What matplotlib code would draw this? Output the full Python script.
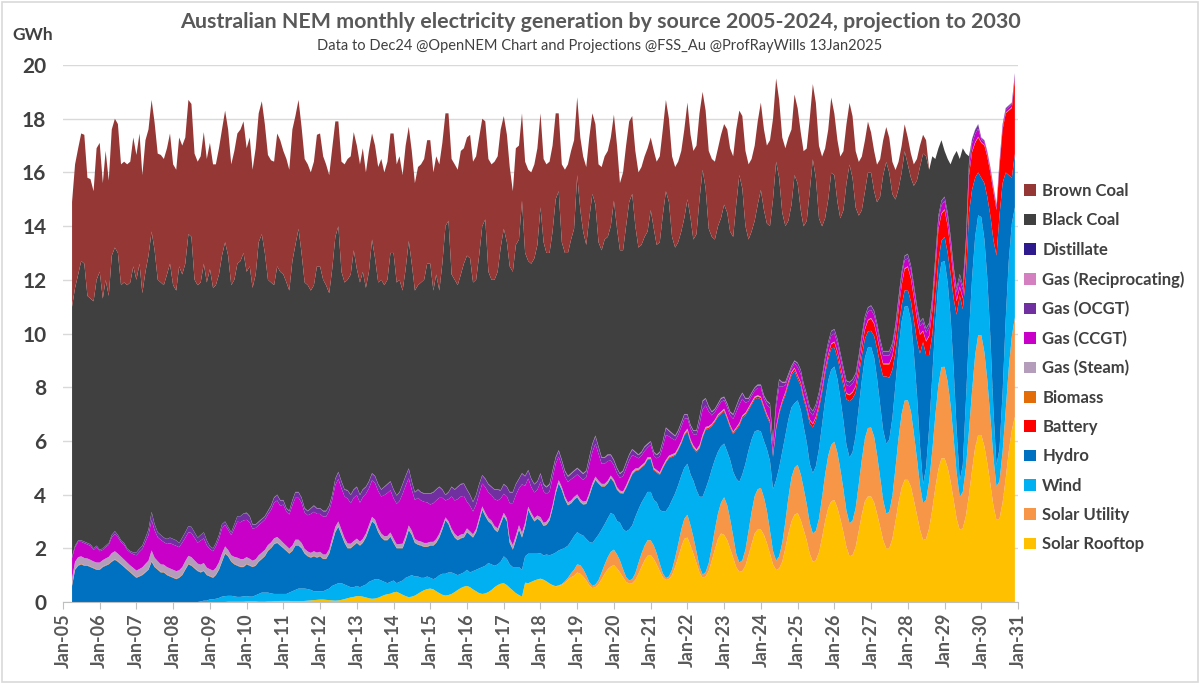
import matplotlib
matplotlib.use("Agg")
import matplotlib.pyplot as plt
import matplotlib.dates as mdates
from matplotlib.patches import Patch, Rectangle
import pandas as pd

plt.rcParams['font.family'] = ['Lato', 'DejaVu Sans']

# monthly values, Apr 2005 .. Dec 2030 (first row = Apr-Dec 2005)
rooftop = [
    0.00, 0.00, 0.00, 0.00, 0.00, 0.00, 0.00, 0.00, 0.00,
    0.00, 0.00, 0.00, 0.00, 0.00, 0.00, 0.00, 0.00, 0.00, 0.00, 0.00, 0.00,
    0.00, 0.00, 0.00, 0.00, 0.00, 0.00, 0.00, 0.00, 0.00, 0.00, 0.00, 0.00,
    0.00, 0.00, 0.00, 0.00, 0.00, 0.00, 0.00, 0.00, 0.00, 0.00, 0.00, 0.00,
    0.00, 0.00, 0.00, 0.00, 0.00, 0.00, 0.01, 0.01, 0.01, 0.01, 0.01, 0.01,
    0.02, 0.02, 0.02, 0.02, 0.01, 0.01, 0.01, 0.02, 0.02, 0.03, 0.03, 0.04,
    0.04, 0.04, 0.04, 0.03, 0.03, 0.03, 0.03, 0.04, 0.05, 0.06, 0.07, 0.08,
    0.09, 0.09, 0.08, 0.07, 0.06, 0.05, 0.06, 0.08, 0.11, 0.14, 0.17, 0.19,
    0.22, 0.22, 0.20, 0.17, 0.14, 0.12, 0.13, 0.16, 0.21, 0.26, 0.29, 0.31,
    0.36, 0.38, 0.33, 0.27, 0.22, 0.18, 0.20, 0.24, 0.31, 0.38, 0.44, 0.48,
    0.50, 0.47, 0.40, 0.33, 0.27, 0.24, 0.26, 0.30, 0.37, 0.45, 0.52, 0.57,
    0.60, 0.55, 0.47, 0.40, 0.33, 0.30, 0.32, 0.37, 0.45, 0.55, 0.63, 0.68,
    0.70, 0.63, 0.53, 0.43, 0.33, 0.26, 0.20, 0.72, 0.70, 0.75, 0.80, 0.84,
    0.86, 0.82, 0.76, 0.68, 0.62, 0.58, 0.60, 0.64, 0.72, 0.82, 0.92, 0.98,
    1.10, 1.05, 0.95, 0.80, 0.62, 0.52, 0.55, 0.66, 0.85, 1.05, 1.22, 1.32,
    1.38, 1.25, 1.10, 0.92, 0.75, 0.68, 0.70, 0.82, 1.05, 1.30, 1.55, 1.72,
    1.75, 1.60, 1.40, 1.15, 0.92, 0.82, 0.85, 1.00, 1.30, 1.65, 2.05, 2.35,
    2.40, 2.10, 1.80, 1.45, 1.10, 0.90, 0.95, 1.15, 1.55, 1.95, 2.35, 2.55,
    2.50, 2.30, 2.00, 1.65, 1.30, 1.12, 1.15, 1.35, 1.75, 2.15, 2.55, 2.70,
    2.70, 2.50, 2.20, 1.80, 1.40, 1.19, 1.25, 1.50, 2.00, 2.55, 3.00, 3.25,
    3.31, 3.05, 2.70, 2.30, 1.80, 1.50, 1.55, 1.85, 2.40, 3.00, 3.50, 3.75,
    3.80, 3.50, 3.10, 2.60, 2.05, 1.70, 1.75, 2.05, 2.65, 3.25, 3.75, 3.93,
    3.93, 3.70, 3.30, 2.80, 2.30, 2.00, 2.00, 2.35, 3.00, 3.70, 4.25, 4.55,
    4.55, 4.30, 3.80, 3.25, 2.70, 2.31, 2.35, 2.75, 3.45, 4.25, 4.95, 5.35,
    5.35, 5.00, 4.50, 3.80, 3.10, 2.68, 2.75, 3.20, 4.00, 4.90, 5.75, 6.22,
    6.22, 5.80, 5.20, 4.40, 3.60, 3.05, 3.10, 3.70, 4.60, 5.60, 6.40, 6.90,
]

utility = [
    0.00, 0.00, 0.00, 0.00, 0.00, 0.00, 0.00, 0.00, 0.00,
    0.00, 0.00, 0.00, 0.00, 0.00, 0.00, 0.00, 0.00, 0.00, 0.00, 0.00, 0.00,
    0.00, 0.00, 0.00, 0.00, 0.00, 0.00, 0.00, 0.00, 0.00, 0.00, 0.00, 0.00,
    0.00, 0.00, 0.00, 0.00, 0.00, 0.00, 0.00, 0.00, 0.00, 0.00, 0.00, 0.00,
    0.00, 0.00, 0.00, 0.00, 0.00, 0.00, 0.00, 0.00, 0.00, 0.00, 0.00, 0.00,
    0.00, 0.00, 0.00, 0.00, 0.00, 0.00, 0.00, 0.00, 0.00, 0.00, 0.00, 0.00,
    0.00, 0.00, 0.00, 0.00, 0.00, 0.00, 0.00, 0.00, 0.00, 0.00, 0.00, 0.00,
    0.00, 0.00, 0.00, 0.00, 0.00, 0.00, 0.00, 0.00, 0.00, 0.00, 0.00, 0.00,
    0.00, 0.00, 0.00, 0.00, 0.00, 0.00, 0.00, 0.00, 0.00, 0.00, 0.00, 0.00,
    0.00, 0.00, 0.00, 0.00, 0.00, 0.00, 0.00, 0.00, 0.00, 0.00, 0.00, 0.00,
    0.00, 0.00, 0.00, 0.00, 0.00, 0.00, 0.00, 0.00, 0.00, 0.00, 0.00, 0.00,
    0.00, 0.00, 0.00, 0.00, 0.00, 0.00, 0.00, 0.00, 0.00, 0.00, 0.00, 0.00,
    0.00, 0.00, 0.00, 0.00, 0.00, 0.00, 0.00, 0.00, 0.00, 0.00, 0.00, 0.00,
    0.01, 0.01, 0.01, 0.01, 0.01, 0.01, 0.02, 0.03, 0.05, 0.08, 0.15, 0.22,
    0.30, 0.32, 0.28, 0.20, 0.12, 0.08, 0.10, 0.15, 0.25, 0.35, 0.45, 0.55,
    0.57, 0.52, 0.45, 0.30, 0.18, 0.12, 0.15, 0.25, 0.40, 0.50, 0.55, 0.58,
    0.55, 0.50, 0.42, 0.28, 0.15, 0.07, 0.10, 0.20, 0.35, 0.50, 0.65, 0.75,
    0.85, 0.75, 0.62, 0.42, 0.22, 0.12, 0.16, 0.30, 0.50, 0.75, 0.95, 1.15,
    1.40, 1.30, 1.10, 0.80, 0.50, 0.35, 0.40, 0.60, 0.90, 1.20, 1.40, 1.50,
    1.55, 1.40, 1.20, 0.85, 0.50, 0.35, 0.45, 0.70, 1.00, 1.35, 1.65, 1.75,
    1.80, 1.70, 1.55, 1.35, 1.15, 1.05, 1.10, 1.25, 1.50, 1.75, 1.95, 2.10,
    2.17, 2.05, 1.85, 1.60, 1.35, 1.23, 1.28, 1.45, 1.75, 2.05, 2.35, 2.55,
    2.57, 2.45, 2.20, 1.85, 1.50, 1.30, 1.35, 1.60, 2.00, 2.40, 2.75, 2.95,
    2.97, 2.80, 2.50, 2.10, 1.65, 1.37, 1.45, 1.75, 2.20, 2.70, 3.15, 3.40,
    3.41, 3.20, 2.85, 2.30, 1.70, 1.24, 1.35, 1.80, 2.40, 2.95, 3.45, 3.72,
    3.72, 3.50, 3.10, 2.50, 1.80, 1.25, 1.40, 1.90, 2.55, 3.10, 3.50, 3.70,
]

wind = [
    0.00, 0.00, 0.00, 0.00, 0.00, 0.00, 0.00, 0.00, 0.00,
    0.00, 0.00, 0.00, 0.00, 0.00, 0.00, 0.00, 0.00, 0.00, 0.00, 0.00, 0.00,
    0.00, 0.00, 0.00, 0.00, 0.00, 0.00, 0.00, 0.00, 0.00, 0.00, 0.00, 0.00,
    0.00, 0.00, 0.00, 0.00, 0.00, 0.00, 0.00, 0.00, 0.00, 0.02, 0.05, 0.05,
    0.10, 0.10, 0.12, 0.15, 0.20, 0.22, 0.22, 0.22, 0.20, 0.18, 0.18, 0.20,
    0.20, 0.18, 0.18, 0.23, 0.29, 0.34, 0.34, 0.33, 0.30, 0.27, 0.27, 0.26,
    0.26, 0.26, 0.31, 0.37, 0.42, 0.47, 0.47, 0.46, 0.43, 0.39, 0.33, 0.32,
    0.31, 0.31, 0.37, 0.43, 0.54, 0.60, 0.64, 0.62, 0.54, 0.46, 0.38, 0.36,
    0.38, 0.33, 0.40, 0.48, 0.61, 0.68, 0.72, 0.69, 0.59, 0.49, 0.41, 0.44,
    0.44, 0.32, 0.42, 0.53, 0.68, 0.77, 0.80, 0.71, 0.64, 0.52, 0.46, 0.47,
    0.40, 0.38, 0.50, 0.67, 0.78, 0.81, 0.84, 0.80, 0.68, 0.55, 0.53, 0.53,
    0.60, 0.55, 0.68, 0.80, 0.92, 1.00, 1.03, 1.08, 0.95, 0.80, 0.77, 0.82,
    1.00, 0.97, 0.87, 0.87, 0.97, 1.04, 1.00, 0.98, 1.10, 1.05, 1.00, 0.96,
    0.95, 0.90, 1.00, 1.05, 1.15, 1.25, 1.30, 1.30, 1.25, 1.20, 1.20, 1.25,
    1.20, 1.15, 1.25, 1.35, 1.50, 1.60, 1.70, 1.70, 1.60, 1.50, 1.45, 1.45,
    1.30, 1.25, 1.40, 1.50, 1.70, 1.90, 2.00, 2.10, 2.00, 1.90, 1.80, 1.80,
    1.80, 1.70, 1.90, 2.00, 2.30, 2.50, 2.60, 2.60, 2.40, 2.20, 2.00, 1.90,
    1.90, 1.90, 2.10, 2.30, 2.60, 2.90, 3.10, 3.10, 2.90, 2.60, 2.30, 2.10,
    2.00, 2.00, 2.20, 2.40, 2.80, 3.00, 3.20, 3.20, 3.00, 2.70, 2.40, 2.20,
    2.10, 2.10, 2.30, 2.60, 2.30, 3.00, 3.30, 3.40, 3.20, 2.90, 2.60, 2.40,
    2.40, 2.40, 2.30, 2.30, 2.20, 2.25, 2.40, 2.60, 2.70, 2.75, 2.80, 2.80,
    2.80, 2.75, 2.65, 2.55, 2.45, 2.45, 2.55, 2.70, 2.85, 2.95, 3.00, 3.00,
    3.00, 2.95, 2.85, 2.70, 2.60, 2.60, 2.70, 2.90, 3.10, 3.30, 3.45, 3.50,
    3.50, 3.40, 3.00, 2.40, 1.50, 0.70, 1.20, 2.00, 2.80, 3.40, 3.80, 3.90,
    3.94, 3.70, 3.30, 2.60, 1.60, 0.60, 1.00, 2.50, 3.60, 4.20, 4.40, 4.46,
    4.40, 4.20, 3.80, 3.00, 1.80, 0.80, 1.20, 2.20, 3.40, 4.00, 4.20, 4.10,
]

hydro = [
    0.60, 1.20, 1.35, 1.40, 1.35, 1.35, 1.30, 1.25, 1.20,
    1.20, 1.30, 1.35, 1.40, 1.50, 1.57, 1.50, 1.40, 1.30, 1.20, 1.10, 1.00,
    0.90, 0.95, 1.00, 1.10, 1.20, 1.50, 1.30, 1.20, 1.10, 1.10, 1.00, 0.95,
    0.90, 0.85, 0.90, 1.00, 1.20, 1.40, 1.35, 1.25, 1.15, 1.08, 1.10, 0.95,
    0.85, 0.80, 0.88, 1.05, 1.30, 1.58, 1.47, 1.27, 1.19, 1.16, 1.11, 1.09,
    1.18, 1.15, 1.10, 1.10, 1.20, 1.25, 1.35, 1.55, 1.68, 1.85, 1.90, 1.80,
    1.70, 1.60, 1.45, 1.50, 1.65, 1.60, 1.50, 1.30, 1.22, 1.20, 1.30, 1.25,
    1.30, 1.20, 1.15, 1.30, 1.60, 1.95, 2.10, 1.80, 1.55, 1.40, 1.45, 1.55,
    1.60, 1.55, 1.60, 1.75, 1.95, 2.20, 2.05, 1.75, 1.60, 1.55, 1.60, 1.68,
    1.40, 1.30, 1.25, 1.20, 1.40, 1.73, 1.50, 1.25, 1.18, 1.20, 1.15, 1.10,
    1.20, 1.25, 1.30, 1.40, 1.65, 2.00, 1.80, 1.50, 1.35, 1.30, 1.32, 1.30,
    1.40, 1.40, 1.25, 1.40, 1.75, 2.13, 1.85, 1.55, 1.50, 1.35, 1.20, 1.40,
    1.50, 1.40, 0.80, 0.65, 1.00, 1.40, 1.20, 1.10, 1.63, 1.40, 1.20, 1.30,
    1.20, 1.10, 1.10, 1.30, 1.70, 2.20, 2.50, 2.20, 1.80, 1.50, 1.40, 1.35,
    1.30, 1.20, 1.15, 1.30, 1.70, 2.10, 2.20, 1.90, 1.60, 1.40, 1.30, 1.30,
    1.20, 1.15, 1.10, 1.30, 1.60, 1.80, 1.90, 1.70, 1.45, 1.30, 1.20, 1.20,
    1.20, 1.10, 1.10, 1.30, 1.60, 1.80, 1.80, 1.60, 1.40, 1.30, 1.20, 1.20,
    1.20, 1.20, 1.20, 1.40, 1.80, 2.20, 2.20, 1.90, 1.60, 1.40, 1.30, 1.20,
    1.20, 1.20, 1.20, 1.40, 1.80, 2.10, 2.10, 1.80, 1.50, 1.30, 1.20, 1.20,
    1.20, 1.20, 1.20, 1.40, 1.20, 1.90, 2.00, 1.80, 1.50, 1.30, 1.20, 1.20,
    0.80, 0.90, 1.00, 1.20, 1.50, 1.70, 1.70, 1.50, 1.20, 1.00, 0.80, 0.80,
    0.70, 0.80, 1.00, 1.30, 1.70, 2.10, 2.00, 1.60, 1.20, 0.90, 0.70, 0.60,
    0.60, 0.80, 1.10, 1.50, 2.00, 2.50, 2.30, 1.80, 1.20, 0.80, 0.60, 0.60,
    0.60, 0.70, 1.20, 2.00, 3.40, 5.30, 4.20, 2.70, 1.50, 0.90, 0.80, 0.80,
    0.90, 1.10, 1.60, 2.60, 4.30, 6.90, 5.80, 4.60, 4.50, 3.30, 2.20, 1.60,
    1.46, 2.10, 3.00, 4.50, 6.30, 7.80, 8.70, 7.80, 5.45, 3.20, 1.70, 2.00,
]

battery = [
    0.00, 0.00, 0.00, 0.00, 0.00, 0.00, 0.00, 0.00, 0.00,
    0.00, 0.00, 0.00, 0.00, 0.00, 0.00, 0.00, 0.00, 0.00, 0.00, 0.00, 0.00,
    0.00, 0.00, 0.00, 0.00, 0.00, 0.00, 0.00, 0.00, 0.00, 0.00, 0.00, 0.00,
    0.00, 0.00, 0.00, 0.00, 0.00, 0.00, 0.00, 0.00, 0.00, 0.00, 0.00, 0.00,
    0.00, 0.00, 0.00, 0.00, 0.00, 0.00, 0.00, 0.00, 0.00, 0.00, 0.00, 0.00,
    0.00, 0.00, 0.00, 0.00, 0.00, 0.00, 0.00, 0.00, 0.00, 0.00, 0.00, 0.00,
    0.00, 0.00, 0.00, 0.00, 0.00, 0.00, 0.00, 0.00, 0.00, 0.00, 0.00, 0.00,
    0.00, 0.00, 0.00, 0.00, 0.00, 0.00, 0.00, 0.00, 0.00, 0.00, 0.00, 0.00,
    0.00, 0.00, 0.00, 0.00, 0.00, 0.00, 0.00, 0.00, 0.00, 0.00, 0.00, 0.00,
    0.00, 0.00, 0.00, 0.00, 0.00, 0.00, 0.00, 0.00, 0.00, 0.00, 0.00, 0.00,
    0.00, 0.00, 0.00, 0.00, 0.00, 0.00, 0.00, 0.00, 0.00, 0.00, 0.00, 0.00,
    0.00, 0.00, 0.00, 0.00, 0.00, 0.00, 0.00, 0.00, 0.00, 0.00, 0.00, 0.00,
    0.00, 0.00, 0.00, 0.00, 0.00, 0.00, 0.00, 0.00, 0.00, 0.00, 0.00, 0.00,
    0.00, 0.00, 0.00, 0.00, 0.00, 0.00, 0.00, 0.00, 0.00, 0.00, 0.00, 0.00,
    0.00, 0.00, 0.00, 0.00, 0.00, 0.00, 0.00, 0.00, 0.00, 0.00, 0.00, 0.00,
    0.02, 0.02, 0.02, 0.02, 0.02, 0.02, 0.02, 0.02, 0.02, 0.02, 0.02, 0.02,
    0.03, 0.03, 0.03, 0.03, 0.03, 0.03, 0.03, 0.03, 0.03, 0.03, 0.03, 0.03,
    0.04, 0.04, 0.04, 0.04, 0.04, 0.04, 0.04, 0.04, 0.04, 0.04, 0.04, 0.04,
    0.05, 0.05, 0.05, 0.05, 0.05, 0.05, 0.05, 0.05, 0.05, 0.05, 0.05, 0.05,
    0.06, 0.06, 0.06, 0.06, 0.06, 0.06, 0.07, 0.07, 0.08, 0.08, 0.08, 0.09,
    0.10, 0.10, 0.10, 0.10, 0.12, 0.12, 0.12, 0.12, 0.13, 0.13, 0.14, 0.15,
    0.20, 0.20, 0.20, 0.20, 0.20, 0.22, 0.22, 0.22, 0.25, 0.30, 0.35, 0.40,
    0.45, 0.45, 0.45, 0.45, 0.45, 0.45, 0.50, 0.50, 0.55, 0.65, 0.75, 0.80,
    0.85, 0.85, 0.85, 0.80, 0.70, 0.40, 0.50, 0.70, 0.90, 1.10, 1.20, 1.00,
    1.00, 1.00, 0.90, 0.70, 0.50, 0.30, 0.40, 0.90, 1.40, 1.40, 1.30, 1.30,
    1.30, 1.40, 1.50, 1.60, 1.80, 1.70, 1.80, 2.00, 2.20, 2.40, 2.60, 2.80,
]

biomass = [
    0.02, 0.02, 0.02, 0.02, 0.02, 0.02, 0.02, 0.02, 0.02,
    0.02, 0.02, 0.02, 0.02, 0.02, 0.02, 0.02, 0.02, 0.02, 0.02, 0.02, 0.02,
    0.02, 0.02, 0.02, 0.02, 0.02, 0.02, 0.02, 0.02, 0.02, 0.02, 0.02, 0.02,
    0.02, 0.02, 0.02, 0.02, 0.02, 0.02, 0.02, 0.02, 0.02, 0.02, 0.02, 0.02,
    0.02, 0.02, 0.02, 0.02, 0.02, 0.02, 0.02, 0.02, 0.02, 0.02, 0.02, 0.02,
    0.02, 0.02, 0.02, 0.02, 0.02, 0.02, 0.02, 0.02, 0.02, 0.02, 0.02, 0.02,
    0.02, 0.02, 0.02, 0.02, 0.02, 0.02, 0.02, 0.02, 0.02, 0.02, 0.02, 0.02,
    0.02, 0.02, 0.02, 0.02, 0.02, 0.02, 0.02, 0.02, 0.02, 0.02, 0.02, 0.02,
    0.02, 0.02, 0.02, 0.02, 0.02, 0.02, 0.02, 0.02, 0.02, 0.02, 0.02, 0.02,
    0.02, 0.02, 0.02, 0.02, 0.02, 0.02, 0.02, 0.02, 0.02, 0.02, 0.02, 0.02,
    0.02, 0.02, 0.02, 0.02, 0.02, 0.02, 0.02, 0.02, 0.02, 0.02, 0.02, 0.02,
    0.02, 0.02, 0.02, 0.02, 0.02, 0.02, 0.02, 0.02, 0.02, 0.02, 0.02, 0.02,
    0.02, 0.02, 0.02, 0.02, 0.02, 0.02, 0.02, 0.02, 0.02, 0.02, 0.02, 0.02,
    0.02, 0.02, 0.02, 0.02, 0.02, 0.02, 0.02, 0.02, 0.02, 0.02, 0.02, 0.02,
    0.02, 0.02, 0.02, 0.02, 0.02, 0.02, 0.02, 0.02, 0.02, 0.02, 0.02, 0.02,
    0.02, 0.02, 0.02, 0.02, 0.02, 0.02, 0.02, 0.02, 0.02, 0.02, 0.02, 0.02,
    0.02, 0.02, 0.02, 0.02, 0.02, 0.02, 0.02, 0.02, 0.02, 0.02, 0.02, 0.02,
    0.02, 0.02, 0.02, 0.02, 0.02, 0.02, 0.02, 0.02, 0.02, 0.02, 0.02, 0.02,
    0.02, 0.02, 0.02, 0.02, 0.02, 0.02, 0.02, 0.02, 0.02, 0.02, 0.02, 0.02,
    0.02, 0.02, 0.02, 0.02, 0.02, 0.02, 0.02, 0.02, 0.02, 0.02, 0.02, 0.02,
    0.02, 0.02, 0.02, 0.02, 0.02, 0.02, 0.02, 0.02, 0.02, 0.02, 0.02, 0.02,
    0.02, 0.02, 0.02, 0.02, 0.02, 0.02, 0.02, 0.02, 0.02, 0.02, 0.02, 0.02,
    0.02, 0.02, 0.02, 0.02, 0.02, 0.02, 0.02, 0.02, 0.02, 0.02, 0.02, 0.02,
    0.02, 0.02, 0.02, 0.02, 0.02, 0.02, 0.02, 0.02, 0.02, 0.02, 0.02, 0.02,
    0.02, 0.02, 0.02, 0.02, 0.02, 0.02, 0.02, 0.02, 0.02, 0.02, 0.02, 0.02,
    0.02, 0.02, 0.02, 0.02, 0.02, 0.02, 0.02, 0.02, 0.02, 0.02, 0.02, 0.02,
]

gas_steam = [
    0.25, 0.28, 0.30, 0.28, 0.27, 0.25, 0.25, 0.24, 0.25,
    0.25, 0.24, 0.25, 0.26, 0.30, 0.30, 0.28, 0.27, 0.26, 0.25, 0.24, 0.25,
    0.25, 0.26, 0.27, 0.30, 0.32, 0.40, 0.33, 0.30, 0.28, 0.27, 0.28, 0.28,
    0.28, 0.28, 0.26, 0.28, 0.30, 0.30, 0.30, 0.28, 0.26, 0.27, 0.28, 0.26,
    0.25, 0.25, 0.25, 0.26, 0.28, 0.25, 0.22, 0.22, 0.26, 0.28, 0.28, 0.28,
    0.25, 0.24, 0.22, 0.22, 0.22, 0.22, 0.22, 0.20, 0.20, 0.20, 0.20, 0.20,
    0.18, 0.17, 0.17, 0.18, 0.20, 0.20, 0.18, 0.16, 0.16, 0.16, 0.17, 0.17,
    0.15, 0.15, 0.15, 0.15, 0.16, 0.18, 0.18, 0.17, 0.16, 0.16, 0.15, 0.15,
    0.14, 0.13, 0.13, 0.13, 0.14, 0.15, 0.15, 0.14, 0.13, 0.13, 0.14, 0.14,
    0.14, 0.13, 0.14, 0.15, 0.15, 0.15, 0.14, 0.13, 0.13, 0.13, 0.13, 0.13,
    0.12, 0.12, 0.12, 0.12, 0.10, 0.08, 0.09, 0.11, 0.12, 0.12, 0.12, 0.12,
    0.12, 0.11, 0.10, 0.10, 0.11, 0.11, 0.11, 0.11, 0.11, 0.11, 0.12, 0.10,
    0.10, 0.10, 0.14, 0.15, 0.15, 0.14, 0.16, 0.13, 0.10, 0.10, 0.10, 0.10,
    0.12, 0.10, 0.10, 0.10, 0.10, 0.10, 0.10, 0.09, 0.09, 0.09, 0.09, 0.09,
    0.09, 0.09, 0.09, 0.09, 0.10, 0.10, 0.10, 0.09, 0.08, 0.08, 0.08, 0.07,
    0.07, 0.07, 0.06, 0.06, 0.07, 0.07, 0.07, 0.06, 0.05, 0.05, 0.05, 0.05,
    0.05, 0.05, 0.05, 0.05, 0.05, 0.05, 0.05, 0.05, 0.05, 0.05, 0.05, 0.05,
    0.05, 0.05, 0.05, 0.05, 0.06, 0.06, 0.05, 0.04, 0.03, 0.03, 0.03, 0.03,
    0.03, 0.03, 0.03, 0.03, 0.03, 0.03, 0.03, 0.03, 0.03, 0.03, 0.03, 0.03,
    0.02, 0.02, 0.02, 0.02, 0.02, 0.02, 0.02, 0.02, 0.02, 0.02, 0.02, 0.02,
    0.01, 0.01, 0.01, 0.01, 0.01, 0.01, 0.01, 0.01, 0.01, 0.01, 0.01, 0.01,
    0.01, 0.01, 0.01, 0.01, 0.01, 0.01, 0.01, 0.01, 0.01, 0.01, 0.01, 0.01,
    0.01, 0.01, 0.01, 0.01, 0.01, 0.01, 0.01, 0.01, 0.01, 0.01, 0.01, 0.01,
    0.01, 0.01, 0.01, 0.01, 0.01, 0.01, 0.01, 0.01, 0.01, 0.01, 0.01, 0.01,
    0.01, 0.01, 0.01, 0.01, 0.01, 0.01, 0.01, 0.01, 0.01, 0.01, 0.01, 0.01,
    0.01, 0.01, 0.01, 0.01, 0.01, 0.01, 0.01, 0.01, 0.01, 0.01, 0.01, 0.01,
]

gas_ccgt = [
    0.77, 0.54, 0.57, 0.54, 0.55, 0.52, 0.52, 0.43, 0.57,
    0.42, 0.38, 0.42, 0.45, 0.59, 0.64, 0.61, 0.54, 0.55, 0.47, 0.48, 0.51,
    0.57, 0.64, 0.68, 0.82, 0.95, 1.13, 1.02, 0.89, 0.91, 0.84, 0.86, 0.94,
    0.94, 0.94, 0.86, 0.91, 0.87, 0.88, 0.90, 0.84, 0.78, 0.90, 0.92, 0.83,
    0.75, 0.72, 0.80, 0.87, 0.94, 0.80, 0.75, 0.75, 1.06, 1.34, 1.37, 1.44,
    1.39, 1.35, 1.19, 1.17, 1.12, 1.12, 1.12, 1.14, 1.21, 1.33, 1.36, 1.26,
    1.43, 1.27, 1.27, 1.50, 1.56, 1.56, 1.50, 1.35, 1.35, 1.45, 1.47, 1.44,
    1.41, 1.41, 1.41, 1.43, 1.42, 1.56, 1.58, 1.54, 1.55, 1.67, 1.51, 1.61,
    1.62, 1.45, 1.55, 1.48, 1.37, 1.36, 1.36, 1.37, 1.38, 1.53, 1.60, 1.57,
    1.50, 1.51, 1.60, 1.86, 1.86, 1.76, 1.52, 1.45, 1.60, 1.53, 1.53, 1.51,
    1.39, 1.44, 1.44, 1.34, 1.06, 0.63, 0.82, 1.20, 1.24, 1.39, 1.42, 1.41,
    0.99, 0.95, 0.85, 0.91, 0.90, 0.85, 0.95, 0.95, 0.95, 1.00, 1.04, 0.83,
    0.71, 0.81, 1.32, 1.56, 1.51, 1.37, 1.80, 1.38, 1.05, 0.96, 0.96, 0.96,
    1.31, 1.17, 1.03, 0.96, 1.02, 0.99, 0.87, 0.79, 0.74, 0.76, 0.79, 0.74,
    0.74, 0.82, 0.81, 0.89, 1.06, 1.17, 1.22, 1.00, 0.75, 0.75, 0.73, 0.56,
    0.53, 0.51, 0.47, 0.57, 0.63, 0.66, 0.61, 0.45, 0.36, 0.36, 0.43, 0.36,
    0.45, 0.45, 0.43, 0.59, 0.70, 0.93, 0.72, 0.59, 0.47, 0.47, 0.52, 0.52,
    0.39, 0.39, 0.42, 0.54, 0.78, 0.93, 0.80, 0.54, 0.31, 0.28, 0.28, 0.36,
    0.32, 0.35, 0.35, 0.47, 0.57, 0.68, 0.62, 0.37, 0.22, 0.22, 0.22, 0.27,
    0.32, 0.27, 0.35, 0.47, 0.35, 0.71, 0.91, 0.51, 0.25, 0.17, 0.12, 0.16,
    0.30, 0.30, 0.30, 0.30, 0.30, 0.30, 0.30, 0.30, 0.30, 0.30, 0.30, 0.30,
    0.30, 0.30, 0.30, 0.30, 0.30, 0.30, 0.30, 0.30, 0.30, 0.30, 0.30, 0.30,
    0.30, 0.30, 0.30, 0.30, 0.30, 0.30, 0.30, 0.30, 0.30, 0.30, 0.30, 0.30,
    0.30, 0.30, 0.30, 0.30, 0.30, 0.30, 0.30, 0.30, 0.30, 0.30, 0.30, 0.30,
    0.30, 0.30, 0.30, 0.30, 0.30, 0.30, 0.30, 0.30, 0.30, 0.30, 0.30, 0.30,
    0.10, 0.10, 0.10, 0.10, 0.10, 0.10, 0.10, 0.10, 0.10, 0.10, 0.10, 0.10,
]

gas_ocgt = [
    0.05, 0.05, 0.05, 0.05, 0.05, 0.05, 0.05, 0.05, 0.05,
    0.05, 0.05, 0.05, 0.06, 0.08, 0.10, 0.08, 0.06, 0.06, 0.05, 0.05, 0.06,
    0.10, 0.12, 0.12, 0.15, 0.20, 0.30, 0.22, 0.18, 0.18, 0.16, 0.18, 0.20,
    0.20, 0.20, 0.15, 0.18, 0.20, 0.22, 0.22, 0.20, 0.18, 0.20, 0.22, 0.18,
    0.10, 0.10, 0.12, 0.14, 0.15, 0.12, 0.10, 0.10, 0.15, 0.20, 0.22, 0.25,
    0.25, 0.22, 0.15, 0.12, 0.12, 0.12, 0.12, 0.12, 0.15, 0.18, 0.20, 0.20,
    0.15, 0.12, 0.12, 0.18, 0.20, 0.20, 0.18, 0.15, 0.15, 0.20, 0.22, 0.20,
    0.20, 0.20, 0.20, 0.18, 0.18, 0.22, 0.25, 0.25, 0.25, 0.30, 0.30, 0.30,
    0.30, 0.28, 0.28, 0.25, 0.25, 0.25, 0.25, 0.25, 0.25, 0.30, 0.32, 0.32,
    0.32, 0.30, 0.32, 0.35, 0.35, 0.35, 0.30, 0.28, 0.30, 0.30, 0.30, 0.32,
    0.40, 0.40, 0.40, 0.40, 0.30, 0.20, 0.25, 0.35, 0.40, 0.45, 0.45, 0.45,
    0.45, 0.40, 0.35, 0.35, 0.35, 0.30, 0.30, 0.30, 0.30, 0.35, 0.40, 0.30,
    0.35, 0.35, 0.40, 0.40, 0.40, 0.35, 0.40, 0.35, 0.30, 0.30, 0.30, 0.30,
    0.30, 0.25, 0.25, 0.25, 0.25, 0.22, 0.22, 0.20, 0.20, 0.20, 0.20, 0.22,
    0.22, 0.22, 0.22, 0.22, 0.25, 0.28, 0.28, 0.25, 0.22, 0.22, 0.22, 0.20,
    0.18, 0.18, 0.15, 0.18, 0.20, 0.20, 0.20, 0.15, 0.12, 0.12, 0.15, 0.12,
    0.12, 0.12, 0.12, 0.15, 0.20, 0.25, 0.20, 0.18, 0.15, 0.15, 0.15, 0.15,
    0.12, 0.12, 0.12, 0.15, 0.25, 0.30, 0.25, 0.18, 0.12, 0.10, 0.10, 0.12,
    0.10, 0.12, 0.12, 0.15, 0.20, 0.22, 0.20, 0.15, 0.10, 0.10, 0.10, 0.10,
    0.10, 0.10, 0.12, 0.15, 0.12, 0.22, 0.25, 0.15, 0.10, 0.08, 0.08, 0.08,
    0.15, 0.15, 0.15, 0.15, 0.15, 0.15, 0.15, 0.15, 0.15, 0.15, 0.15, 0.15,
    0.15, 0.15, 0.15, 0.15, 0.15, 0.15, 0.15, 0.15, 0.15, 0.15, 0.15, 0.15,
    0.15, 0.15, 0.15, 0.15, 0.15, 0.15, 0.15, 0.15, 0.15, 0.15, 0.15, 0.15,
    0.15, 0.15, 0.15, 0.15, 0.15, 0.15, 0.15, 0.15, 0.15, 0.15, 0.15, 0.15,
    0.15, 0.15, 0.15, 0.15, 0.15, 0.15, 0.15, 0.15, 0.15, 0.15, 0.15, 0.15,
    0.05, 0.05, 0.05, 0.05, 0.05, 0.05, 0.05, 0.05, 0.05, 0.05, 0.05, 0.05,
]

gas_recip = [
    0.00, 0.00, 0.00, 0.00, 0.00, 0.00, 0.00, 0.00, 0.00,
    0.00, 0.00, 0.00, 0.00, 0.00, 0.00, 0.00, 0.00, 0.00, 0.00, 0.00, 0.00,
    0.00, 0.00, 0.00, 0.00, 0.00, 0.00, 0.00, 0.00, 0.00, 0.00, 0.00, 0.00,
    0.00, 0.00, 0.00, 0.00, 0.00, 0.00, 0.00, 0.00, 0.00, 0.00, 0.00, 0.00,
    0.00, 0.00, 0.00, 0.00, 0.00, 0.00, 0.00, 0.00, 0.00, 0.00, 0.00, 0.00,
    0.01, 0.01, 0.01, 0.01, 0.01, 0.01, 0.01, 0.01, 0.01, 0.01, 0.01, 0.01,
    0.01, 0.01, 0.01, 0.01, 0.01, 0.01, 0.01, 0.01, 0.01, 0.01, 0.01, 0.01,
    0.01, 0.01, 0.01, 0.01, 0.01, 0.01, 0.01, 0.01, 0.01, 0.01, 0.01, 0.01,
    0.01, 0.01, 0.01, 0.01, 0.01, 0.01, 0.01, 0.01, 0.01, 0.01, 0.01, 0.01,
    0.01, 0.01, 0.01, 0.01, 0.01, 0.01, 0.01, 0.01, 0.01, 0.01, 0.01, 0.01,
    0.01, 0.01, 0.01, 0.01, 0.01, 0.01, 0.01, 0.01, 0.01, 0.01, 0.01, 0.01,
    0.01, 0.01, 0.01, 0.01, 0.01, 0.01, 0.01, 0.01, 0.01, 0.01, 0.01, 0.01,
    0.01, 0.01, 0.01, 0.01, 0.01, 0.01, 0.01, 0.01, 0.01, 0.01, 0.01, 0.01,
    0.02, 0.02, 0.02, 0.02, 0.02, 0.02, 0.02, 0.02, 0.02, 0.02, 0.02, 0.02,
    0.02, 0.02, 0.02, 0.02, 0.02, 0.02, 0.02, 0.02, 0.02, 0.02, 0.02, 0.02,
    0.02, 0.02, 0.02, 0.02, 0.02, 0.02, 0.02, 0.02, 0.02, 0.02, 0.02, 0.02,
    0.02, 0.02, 0.02, 0.02, 0.02, 0.02, 0.02, 0.02, 0.02, 0.02, 0.02, 0.02,
    0.02, 0.02, 0.02, 0.02, 0.02, 0.02, 0.02, 0.02, 0.02, 0.02, 0.02, 0.02,
    0.02, 0.02, 0.02, 0.02, 0.02, 0.02, 0.02, 0.02, 0.02, 0.02, 0.02, 0.02,
    0.02, 0.02, 0.02, 0.02, 0.02, 0.02, 0.02, 0.02, 0.02, 0.02, 0.02, 0.02,
    0.01, 0.01, 0.01, 0.01, 0.01, 0.01, 0.01, 0.01, 0.01, 0.01, 0.01, 0.01,
    0.01, 0.01, 0.01, 0.01, 0.01, 0.01, 0.01, 0.01, 0.01, 0.01, 0.01, 0.01,
    0.01, 0.01, 0.01, 0.01, 0.01, 0.01, 0.01, 0.01, 0.01, 0.01, 0.01, 0.01,
    0.01, 0.01, 0.01, 0.01, 0.01, 0.01, 0.01, 0.01, 0.01, 0.01, 0.01, 0.01,
    0.01, 0.01, 0.01, 0.01, 0.01, 0.01, 0.01, 0.01, 0.01, 0.01, 0.01, 0.01,
    0.01, 0.01, 0.01, 0.01, 0.01, 0.01, 0.01, 0.01, 0.01, 0.01, 0.01, 0.01,
]

distillate = [
    0.01, 0.01, 0.01, 0.01, 0.01, 0.01, 0.01, 0.01, 0.01,
    0.01, 0.01, 0.01, 0.01, 0.01, 0.01, 0.01, 0.01, 0.01, 0.01, 0.01, 0.01,
    0.01, 0.01, 0.01, 0.01, 0.01, 0.01, 0.01, 0.01, 0.01, 0.01, 0.01, 0.01,
    0.01, 0.01, 0.01, 0.01, 0.01, 0.01, 0.01, 0.01, 0.01, 0.01, 0.01, 0.01,
    0.01, 0.01, 0.01, 0.01, 0.01, 0.01, 0.01, 0.01, 0.01, 0.01, 0.01, 0.01,
    0.01, 0.01, 0.01, 0.01, 0.01, 0.01, 0.01, 0.01, 0.01, 0.01, 0.01, 0.01,
    0.01, 0.01, 0.01, 0.01, 0.01, 0.01, 0.01, 0.01, 0.01, 0.01, 0.01, 0.01,
    0.01, 0.01, 0.01, 0.01, 0.01, 0.01, 0.01, 0.01, 0.01, 0.01, 0.01, 0.01,
    0.01, 0.01, 0.01, 0.01, 0.01, 0.01, 0.01, 0.01, 0.01, 0.01, 0.01, 0.01,
    0.01, 0.01, 0.01, 0.01, 0.01, 0.01, 0.01, 0.01, 0.01, 0.01, 0.01, 0.01,
    0.01, 0.01, 0.01, 0.01, 0.01, 0.01, 0.01, 0.01, 0.01, 0.01, 0.01, 0.01,
    0.01, 0.01, 0.01, 0.01, 0.01, 0.01, 0.01, 0.01, 0.01, 0.01, 0.01, 0.01,
    0.01, 0.01, 0.01, 0.01, 0.01, 0.01, 0.01, 0.01, 0.01, 0.01, 0.01, 0.01,
    0.01, 0.01, 0.01, 0.01, 0.01, 0.01, 0.01, 0.01, 0.01, 0.01, 0.01, 0.01,
    0.01, 0.01, 0.01, 0.01, 0.01, 0.01, 0.01, 0.01, 0.01, 0.01, 0.01, 0.01,
    0.01, 0.01, 0.01, 0.01, 0.01, 0.01, 0.01, 0.01, 0.01, 0.01, 0.01, 0.01,
    0.01, 0.01, 0.01, 0.01, 0.01, 0.01, 0.01, 0.01, 0.01, 0.01, 0.01, 0.01,
    0.01, 0.01, 0.01, 0.01, 0.01, 0.01, 0.01, 0.01, 0.01, 0.01, 0.01, 0.01,
    0.01, 0.01, 0.01, 0.01, 0.01, 0.01, 0.01, 0.01, 0.01, 0.01, 0.01, 0.01,
    0.01, 0.01, 0.01, 0.01, 0.01, 0.01, 0.01, 0.01, 0.01, 0.01, 0.01, 0.01,
    0.01, 0.01, 0.01, 0.01, 0.01, 0.01, 0.01, 0.01, 0.01, 0.01, 0.01, 0.01,
    0.01, 0.01, 0.01, 0.01, 0.01, 0.01, 0.01, 0.01, 0.01, 0.01, 0.01, 0.01,
    0.01, 0.01, 0.01, 0.01, 0.01, 0.01, 0.01, 0.01, 0.01, 0.01, 0.01, 0.01,
    0.01, 0.01, 0.01, 0.01, 0.01, 0.01, 0.01, 0.01, 0.01, 0.01, 0.01, 0.01,
    0.01, 0.01, 0.01, 0.01, 0.01, 0.01, 0.01, 0.01, 0.01, 0.01, 0.01, 0.01,
    0.01, 0.01, 0.01, 0.01, 0.01, 0.01, 0.01, 0.01, 0.01, 0.01, 0.01, 0.01,
]

black_coal = [
    9.30, 9.60, 9.90, 10.40, 10.35, 9.20, 9.15, 9.20, 9.90,
    10.35, 9.30, 9.90, 9.20, 10.40, 10.56, 10.50, 9.50, 9.70, 9.80, 10.00, 10.65,
    10.15, 10.60, 9.40, 9.90, 10.20, 10.44, 10.20, 9.40, 9.40, 9.40, 9.85, 10.20,
    9.45, 9.30, 10.30, 9.80, 10.00, 10.87, 10.80, 9.40, 9.40, 9.40, 10.00, 9.60,
    10.32, 9.70, 9.60, 9.70, 10.00, 10.40, 10.10, 9.20, 9.10, 9.40, 9.50, 9.70,
    8.97, 9.30, 8.80, 9.30, 10.40, 10.60, 9.80, 8.60, 8.30, 7.90, 8.50, 8.50,
    8.40, 8.40, 8.20, 8.90, 9.20, 9.80, 9.10, 8.40, 8.40, 8.10, 8.20, 9.00,
    9.00, 8.60, 8.40, 7.90, 8.40, 9.00, 9.15, 7.80, 7.70, 7.83, 8.20, 8.90,
    8.10, 7.90, 8.10, 7.40, 7.80, 8.70, 8.10, 7.50, 7.80, 7.50, 7.60, 8.50,
    8.80, 7.92, 7.90, 7.20, 7.70, 8.47, 8.10, 7.50, 7.60, 7.80, 7.95, 8.55,
    8.55, 7.50, 8.00, 7.30, 8.40, 10.00, 10.10, 7.90, 7.80, 7.50, 7.80, 8.18,
    8.70, 8.80, 8.16, 8.00, 8.50, 9.27, 9.65, 7.90, 7.70, 7.80, 8.10, 9.03,
    9.50, 9.10, 8.40, 8.20, 8.90, 8.90, 10.15, 8.30, 7.78, 8.00, 8.40, 8.80,
    9.90, 9.00, 8.70, 8.60, 8.90, 9.60, 9.64, 8.10, 8.10, 8.30, 8.70, 9.00,
    10.90, 9.70, 9.00, 8.40, 8.90, 9.30, 8.60, 7.60, 7.70, 8.10, 8.10, 8.50,
    9.65, 8.90, 8.30, 8.20, 8.80, 9.40, 9.50, 8.40, 7.70, 7.70, 7.80, 7.90,
    8.60, 8.30, 7.80, 7.80, 8.40, 8.80, 8.50, 7.30, 7.00, 7.00, 7.10, 7.30,
    8.00, 7.70, 7.10, 7.30, 8.10, 8.60, 7.80, 6.60, 6.50, 6.30, 6.60, 6.70,
    7.15, 7.10, 6.70, 6.60, 7.50, 8.30, 7.60, 6.40, 5.90, 6.00, 6.20, 6.70,
    7.25, 6.90, 6.60, 6.60, 9.00, 8.90, 7.50, 6.30, 5.80, 5.70, 6.00, 6.90,
    6.68, 5.94, 5.84, 6.44, 8.02, 9.37, 8.42, 6.47, 5.56, 5.16, 5.30, 5.89,
    5.72, 5.09, 4.99, 5.84, 7.34, 8.09, 7.49, 6.17, 5.19, 4.64, 4.64, 5.01,
    4.94, 4.44, 4.49, 5.29, 6.54, 7.04, 6.64, 5.54, 4.64, 4.04, 3.69, 3.89,
    3.33, 3.25, 3.65, 4.65, 5.75, 6.12, 6.40, 5.70, 5.25, 3.65, 2.50, 2.25,
    1.70, 2.00, 2.65, 4.10, 5.10, 4.28, 5.10, 3.20, 0.20, 0.00, 0.00, 0.00,
    0.00, 0.00, 0.00, 0.00, 0.00, 0.00, 0.00, 0.00, 0.00, 0.00, 0.00, 0.00,
]

brown_coal = [
    3.90, 4.60, 4.70, 4.75, 4.80, 4.40, 4.45, 4.10, 4.90,
    4.80, 4.30, 4.80, 4.30, 4.70, 4.80, 4.80, 4.50, 4.50, 4.50, 4.50, 4.80,
    4.65, 4.85, 4.40, 4.90, 4.70, 4.90, 4.75, 4.70, 4.75, 4.70, 4.70, 4.85,
    4.50, 4.50, 4.80, 4.80, 4.70, 5.00, 4.95, 4.70, 4.60, 4.70, 4.90, 4.60,
    4.70, 4.60, 4.50, 4.70, 4.70, 4.90, 4.70, 4.50, 4.80, 4.85, 4.90, 4.90,
    4.60, 4.80, 4.40, 4.70, 4.80, 4.95, 4.80, 4.65, 4.55, 4.60, 4.95, 4.90,
    4.60, 4.60, 4.50, 4.90, 4.80, 4.80, 4.70, 4.60, 4.50, 4.40, 4.60, 4.90,
    4.95, 4.60, 4.50, 4.40, 4.50, 4.30, 3.90, 4.10, 4.40, 4.50, 4.40, 4.40,
    4.60, 4.40, 4.60, 4.30, 4.50, 3.95, 4.20, 4.30, 4.50, 4.20, 4.40, 4.45,
    4.45, 4.40, 4.60, 4.30, 4.60, 4.25, 4.20, 4.00, 4.40, 4.40, 4.50, 4.60,
    4.60, 4.40, 4.40, 4.70, 4.50, 4.20, 4.00, 4.30, 4.30, 4.30, 4.60, 4.30,
    4.40, 4.60, 4.50, 4.60, 4.40, 4.00, 3.65, 4.20, 4.30, 4.40, 4.30, 4.40,
    4.20, 4.00, 3.70, 3.00, 3.60, 3.50, 3.25, 3.40, 3.40, 3.40, 3.50, 3.60,
    3.50, 3.10, 3.30, 3.40, 3.20, 3.20, 2.90, 2.90, 3.10, 3.30, 3.30, 3.30,
    2.90, 2.70, 2.80, 2.90, 3.00, 3.00, 3.00, 2.90, 3.10, 3.10, 3.20, 3.30,
    3.20, 3.10, 2.50, 2.90, 3.00, 3.00, 2.90, 2.80, 2.80, 2.90, 3.00, 3.10,
    2.70, 2.90, 3.10, 3.20, 3.20, 3.40, 3.10, 3.00, 3.00, 3.00, 3.00, 3.30,
    3.60, 3.10, 3.30, 3.30, 3.20, 2.90, 2.90, 2.90, 2.90, 2.90, 2.90, 3.10,
    3.00, 3.10, 3.10, 3.00, 2.80, 2.40, 2.70, 2.80, 2.80, 2.70, 2.80, 3.10,
    3.25, 3.00, 2.90, 3.20, 3.00, 3.10, 2.90, 2.80, 2.90, 3.10, 2.80, 3.00,
    2.80, 2.90, 2.80, 2.70, 2.70, 2.80, 2.80, 2.70, 2.60, 2.60, 2.60, 2.80,
    2.30, 2.30, 2.30, 2.20, 2.20, 2.30, 2.30, 2.10, 2.00, 2.00, 1.90, 1.90,
    1.50, 1.50, 1.40, 1.40, 1.30, 1.30, 1.30, 1.20, 1.10, 1.00, 1.00, 1.00,
    1.00, 0.90, 0.80, 0.80, 0.80, 0.70, 0.60, 0.00, 0.00, 0.00, 0.00, 0.00,
    0.00, 0.00, 0.00, 0.00, 0.00, 0.00, 0.00, 0.00, 0.00, 0.00, 0.00, 0.00,
    0.00, 0.00, 0.00, 0.00, 0.00, 0.00, 0.00, 0.00, 0.00, 0.00, 0.00, 0.00,
]

months = pd.date_range("2005-04-01", "2030-12-01", freq="MS")

series = [rooftop, utility, wind, hydro, battery, biomass, gas_steam,
          gas_ccgt, gas_ocgt, gas_recip, distillate, black_coal, brown_coal]
labels = ["Solar Rooftop", "Solar Utility", "Wind", "Hydro", "Battery",
          "Biomass", "Gas (Steam)", "Gas (CCGT)", "Gas (OCGT)",
          "Gas (Reciprocating)", "Distillate", "Black Coal", "Brown Coal"]
colors = ["#FFC000", "#F79646", "#00B0F0", "#0070C0", "#FF0000",
          "#E36C09", "#B39DBB", "#C800C8", "#7030A0", "#D47FC0",
          "#2E1A8C", "#404040", "#953735"]

for s, name in zip(series, labels):
    assert len(s) == len(months), (name, len(s))

fig = plt.figure(figsize=(12, 6.84), dpi=100)
ax = fig.add_axes([63 / 1200, 1 - 602 / 684, (1018 - 63) / 1200, (602 - 65) / 684])

ax.stackplot(months, *series, colors=colors, linewidth=0)

ax.set_xlim(pd.Timestamp("2005-01-01"), pd.Timestamp("2031-01-01"))
ax.set_ylim(0, 20)
ax.set_yticks(range(0, 21, 2))
ax.yaxis.grid(True, color="#D9D9D9", linewidth=1)
ax.set_axisbelow(True)

ax.xaxis.set_major_locator(mdates.YearLocator(1, month=1, day=1))
ax.xaxis.set_major_formatter(mdates.DateFormatter("%b-%y"))
ax.tick_params(axis="x", direction="out", length=5, color="#BFBFBF",
               labelsize=13, labelcolor="#595959", pad=3)
ax.tick_params(axis="y", length=0, labelsize=15, labelcolor="#404040", pad=12)
for lab in ax.get_xticklabels():
    lab.set_rotation(90)
    lab.set_fontweight("bold")
for lab in ax.get_yticklabels():
    lab.set_fontweight("bold")

for side in ["left", "right", "top"]:
    ax.spines[side].set_visible(False)
ax.spines["bottom"].set_color("#BFBFBF")

fig.text(0.5, 1 - 22 / 684,
         "Australian NEM monthly electricity generation by source 2005-2024, projection to 2030",
         ha="center", va="center", fontsize=15.4, fontweight="bold", color="#595959")
fig.text(0.5, 1 - 46 / 684,
         "Data to Dec24 @OpenNEM Chart and Projections @FSS_Au @ProfRayWills 13Jan2025",
         ha="center", va="center", fontsize=10.5, color="#404040")
fig.text(33 / 1200, 1 - 35 / 684, "GWh", ha="center", va="center",
         fontsize=12.5, fontweight="bold", color="#404040")

handles = [Patch(facecolor=c, edgecolor="none") for c in colors][::-1]
fig.legend(handles, labels[::-1], loc="upper left",
           bbox_to_anchor=(1024 / 1200, 1 - 183 / 684), frameon=False,
           prop={"size": 12, "weight": "bold"}, labelcolor="#404040",
           handlelength=0.7, handleheight=0.7, handletextpad=0.4,
           labelspacing=0.8, borderpad=0, borderaxespad=0)

fig.patches.append(Rectangle((0.002, 0.003), 0.996, 0.994, transform=fig.transFigure,
                             fill=False, edgecolor="#D9D9D9", linewidth=1.2))

fig.savefig("out.png", dpi=100)
